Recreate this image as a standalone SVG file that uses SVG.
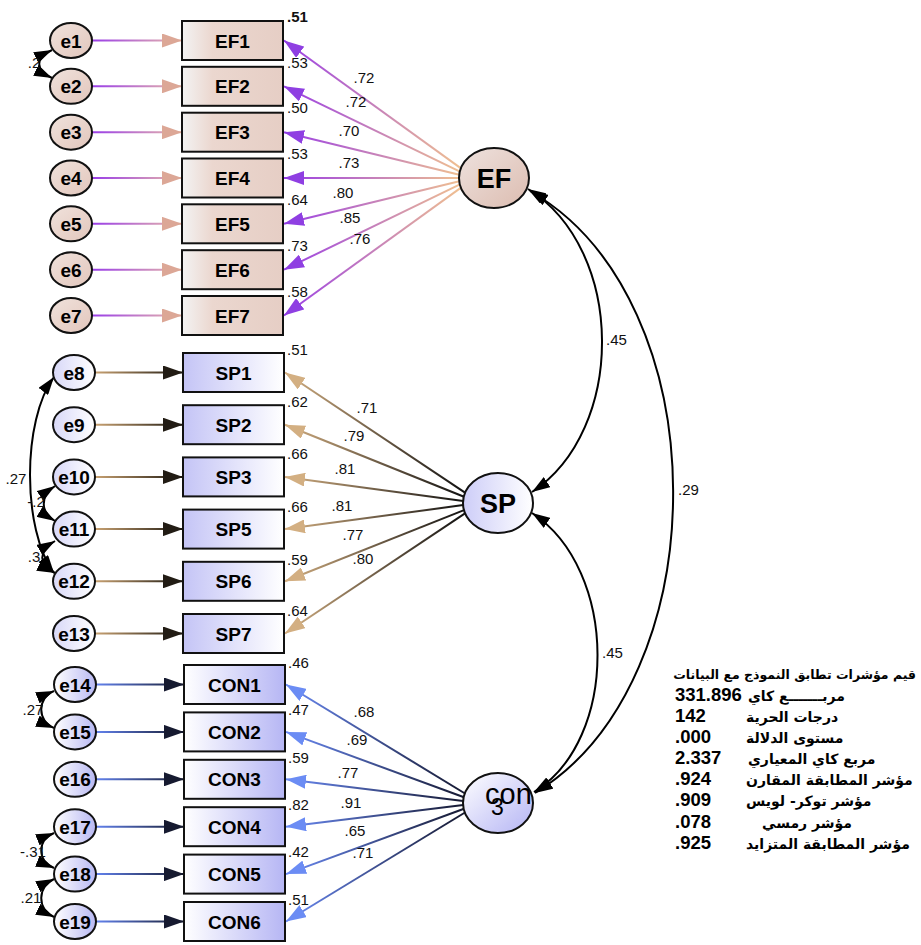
<svg xmlns="http://www.w3.org/2000/svg" width="921" height="945" viewBox="0 0 921 945">
<style>
.box{stroke:#111;stroke-width:2}
.err{stroke:#111;stroke-width:2}
.lat{stroke:#111;stroke-width:2}
.lbl{font-family:"Liberation Sans Narrow","Liberation Sans",Arial,sans-serif;font-weight:bold;font-size:19px;text-anchor:middle;fill:#000}
.big{font-family:"Liberation Sans Narrow","Liberation Sans",Arial,sans-serif;font-weight:bold;font-size:27px;text-anchor:middle;fill:#000}
.num{font-family:"Liberation Sans Narrow","Liberation Sans",Arial,sans-serif;font-size:15px;fill:#111}
.numc{font-family:"Liberation Sans Narrow","Liberation Sans",Arial,sans-serif;font-size:15px;fill:#111;text-anchor:middle}
.ln{fill:none;stroke-width:2}
.cov{fill:none;stroke:#000;stroke-width:2}
.ar{font-family:"DejaVu Sans","Noto Sans",sans-serif;font-weight:bold;font-size:14px;fill:#000;text-anchor:start}
.ttl{font-family:"DejaVu Sans","Noto Sans",sans-serif;font-weight:bold;font-size:12.5px;fill:#000;text-anchor:end}
.val{font-family:"Liberation Sans",Arial,sans-serif;font-weight:bold;font-size:18.5px;fill:#000}
</style>
<defs>
<linearGradient id="gEFbox" x1="0" y1="0" x2="1" y2="0"><stop offset="0" stop-color="#f3f3f3"/><stop offset="0.3" stop-color="#ebd7cf"/><stop offset="1" stop-color="#e6cec5"/></linearGradient>
<linearGradient id="gEFe" x1="0" y1="0" x2="1" y2="1"><stop offset="0" stop-color="#f0e2dc"/><stop offset="1" stop-color="#e2c6bc"/></linearGradient>
<linearGradient id="gEFell" x1="0" y1="0" x2="1" y2="1"><stop offset="0" stop-color="#eee2de"/><stop offset="1" stop-color="#dcbcb0"/></linearGradient>
<linearGradient id="gSPbox" x1="0" y1="0" x2="1" y2="0"><stop offset="0" stop-color="#c4c4f6"/><stop offset="1" stop-color="#ffffff"/></linearGradient>
<linearGradient id="gSPe" x1="0" y1="0" x2="1" y2="0"><stop offset="0" stop-color="#d8d8f8"/><stop offset="1" stop-color="#ffffff"/></linearGradient>
<linearGradient id="gSPell" x1="0" y1="0" x2="1" y2="0"><stop offset="0" stop-color="#cdcdf8"/><stop offset="1" stop-color="#ffffff"/></linearGradient>
<linearGradient id="gCONbox" x1="0" y1="0" x2="1" y2="0"><stop offset="0" stop-color="#ffffff"/><stop offset="1" stop-color="#b6b6f4"/></linearGradient>
<linearGradient id="gCONe" x1="0" y1="0" x2="1" y2="0"><stop offset="0" stop-color="#ffffff"/><stop offset="1" stop-color="#b8b8f2"/></linearGradient>
<linearGradient id="gCONell" x1="0" y1="0" x2="1" y2="1"><stop offset="0" stop-color="#ffffff"/><stop offset="1" stop-color="#b4b4f4"/></linearGradient>
<linearGradient id="lEFe" gradientUnits="userSpaceOnUse" x1="92" y1="0" x2="182" y2="0"><stop offset="0" stop-color="#9a3ee8"/><stop offset="1" stop-color="#e8b8a8"/></linearGradient>
<linearGradient id="lSPe" gradientUnits="userSpaceOnUse" x1="95" y1="0" x2="183" y2="0"><stop offset="0" stop-color="#c9a272"/><stop offset="1" stop-color="#1c1810"/></linearGradient>
<linearGradient id="lCONe" gradientUnits="userSpaceOnUse" x1="96" y1="0" x2="184" y2="0"><stop offset="0" stop-color="#6282ee"/><stop offset="1" stop-color="#161a2e"/></linearGradient>
<linearGradient id="lEFl" gradientUnits="userSpaceOnUse" x1="461" y1="0" x2="284" y2="0"><stop offset="0" stop-color="#f0c090"/><stop offset="1" stop-color="#9a3ee6"/></linearGradient>
<linearGradient id="lSPl" gradientUnits="userSpaceOnUse" x1="464" y1="0" x2="285" y2="0"><stop offset="0" stop-color="#111111"/><stop offset="1" stop-color="#d2ae80"/></linearGradient>
<linearGradient id="lCONl" gradientUnits="userSpaceOnUse" x1="464" y1="0" x2="286" y2="0"><stop offset="0" stop-color="#151830"/><stop offset="1" stop-color="#6a8af5"/></linearGradient>
<marker id="mPeach" markerUnits="userSpaceOnUse" viewBox="0 0 20 14" markerWidth="20" markerHeight="14" refX="20" refY="7" orient="auto"><path d="M0,0 L20,7 L0,14 z" fill="#dca796"/></marker>
<marker id="mPurple" markerUnits="userSpaceOnUse" viewBox="0 0 20 14" markerWidth="20" markerHeight="14" refX="20" refY="7" orient="auto"><path d="M0,0 L20,7 L0,14 z" fill="#8f3fe2"/></marker>
<marker id="mDark" markerUnits="userSpaceOnUse" viewBox="0 0 20 14" markerWidth="20" markerHeight="14" refX="20" refY="7" orient="auto"><path d="M0,0 L20,7 L0,14 z" fill="#221c14"/></marker>
<marker id="mTan" markerUnits="userSpaceOnUse" viewBox="0 0 20 14" markerWidth="20" markerHeight="14" refX="20" refY="7" orient="auto"><path d="M0,0 L20,7 L0,14 z" fill="#d3af82"/></marker>
<marker id="mNavy" markerUnits="userSpaceOnUse" viewBox="0 0 20 14" markerWidth="20" markerHeight="14" refX="20" refY="7" orient="auto"><path d="M0,0 L20,7 L0,14 z" fill="#161a30"/></marker>
<marker id="mBlue" markerUnits="userSpaceOnUse" viewBox="0 0 20 14" markerWidth="20" markerHeight="14" refX="20" refY="7" orient="auto"><path d="M0,0 L20,7 L0,14 z" fill="#6b8cf4"/></marker>
<marker id="mBlack" markerUnits="userSpaceOnUse" viewBox="0 0 18 12" markerWidth="18" markerHeight="12" refX="18" refY="6" orient="auto-start-reverse"><path d="M0,0 L18,6 L0,12 z" fill="#000"/></marker>
</defs>
<rect width="921" height="945" fill="#fff"/>

<g id="connectors">
  <g stroke="url(#lEFe)" class="ln" marker-end="url(#mPeach)">
    <path d="M92,40.5 H182"/><path d="M92,86.3 H182"/><path d="M92,132.2 H182"/><path d="M92,178 H182"/><path d="M92,223.8 H182"/><path d="M92,269.7 H182"/><path d="M92,315.5 H182"/>
  </g>
  <g stroke="url(#lEFl)" class="ln" marker-end="url(#mPurple)">
    <path d="M461,168.4 L284,40.5"/><path d="M460,171.6 L284,86.3"/><path d="M459.3,174.8 L284,132.2"/><path d="M459,178 L284,178"/><path d="M459.3,181.2 L284,223.8"/><path d="M460,184.4 L284,269.7"/><path d="M461,187.6 L284,315.5"/>
  </g>
  <g stroke="url(#lSPe)" class="ln" marker-end="url(#mDark)">
    <path d="M95,372.5 H183"/><path d="M95,424.7 H183"/><path d="M95,476.9 H183"/><path d="M95,529.1 H183"/><path d="M95,581.3 H183"/><path d="M95,633.5 H183"/>
  </g>
  <g stroke="url(#lSPl)" class="ln" marker-end="url(#mTan)">
    <path d="M465,492.6 L285,372.5"/><path d="M464,496.7 L285,424.7"/><path d="M463.2,500.9 L285,476.9"/><path d="M463.2,505.1 L285,529.1"/><path d="M464,510.1 L285,581.3"/><path d="M465,513.4 L285,633.5"/>
  </g>
  <g stroke="url(#lCONe)" class="ln" marker-end="url(#mNavy)">
    <path d="M96,684.5 H184"/><path d="M96,731.9 H184"/><path d="M96,779.3 H184"/><path d="M96,826.7 H184"/><path d="M96,874.1 H184"/><path d="M96,921.5 H184"/>
  </g>
  <g stroke="url(#lCONl)" class="ln" marker-end="url(#mBlue)">
    <path d="M465,793.5 L286,684.5"/><path d="M464,797.3 L286,731.9"/><path d="M463.2,801.1 L286,779.3"/><path d="M463.2,804.9 L286,826.7"/><path d="M464,808.7 L286,874.1"/><path d="M465,812.5 L286,921.5"/>
  </g>
  <g class="cov" marker-start="url(#mBlack)" marker-end="url(#mBlack)">
    <path d="M528,189 C626,250 626,430 532,492"/>
    <path d="M530,191 C720,300 720,680 535,793"/>
    <path d="M532,513 C619,570 619,740 534,792"/>
  </g>
  <g class="cov" marker-start="url(#mBlack)" marker-end="url(#mBlack)">
    <path d="M52,50 C35,58 35,70 52,78"/>
    <path d="M54,377 C22,420 22,530 54,573"/>
    <path d="M55,486 C40,496 40,512 55,521"/>
    <path d="M55,541 C38,551 38,565 55,573"/>
    <path d="M54,691 C37,698 37,721 54,728"/>
    <path d="M54,833 C37,840 37,861 54,868"/>
    <path d="M54,879 C37,887 37,909 54,917"/>
  </g>
  <text class="numc" x="364" y="83">.72</text>
  <text class="numc" x="356" y="107">.72</text>
  <text class="numc" x="349" y="136">.70</text>
  <text class="numc" x="349" y="168">.73</text>
  <text class="numc" x="343" y="198">.80</text>
  <text class="numc" x="350" y="223">.85</text>
  <text class="numc" x="360" y="244">.76</text>
  <text class="numc" x="367" y="413">.71</text>
  <text class="numc" x="354" y="441">.79</text>
  <text class="numc" x="345" y="474">.81</text>
  <text class="numc" x="342" y="511">.81</text>
  <text class="numc" x="353" y="540">.77</text>
  <text class="numc" x="363" y="564">.80</text>
  <text class="numc" x="364" y="717">.68</text>
  <text class="numc" x="357" y="745">.69</text>
  <text class="numc" x="348" y="778">.77</text>
  <text class="numc" x="351" y="808">.91</text>
  <text class="numc" x="355" y="836">.65</text>
  <text class="numc" x="363" y="858">.71</text>
  <text class="num" x="287" y="22" font-weight="bold">.51</text>
  <text class="num" x="287" y="68">.53</text>
  <text class="num" x="287" y="113">.50</text>
  <text class="num" x="287" y="159">.53</text>
  <text class="num" x="287" y="205">.64</text>
  <text class="num" x="287" y="251">.73</text>
  <text class="num" x="287" y="297">.58</text>
  <text class="num" x="287" y="355">.51</text>
  <text class="num" x="287" y="407">.62</text>
  <text class="num" x="287" y="459">.66</text>
  <text class="num" x="287" y="512">.66</text>
  <text class="num" x="287" y="565">.59</text>
  <text class="num" x="287" y="616">.64</text>
  <text class="num" x="288" y="668">.46</text>
  <text class="num" x="288" y="715">.47</text>
  <text class="num" x="288" y="763">.59</text>
  <text class="num" x="288" y="810">.82</text>
  <text class="num" x="288" y="857">.42</text>
  <text class="num" x="288" y="905">.51</text>
  <text class="num" x="606" y="345">.45</text>
  <text class="num" x="678" y="495">.29</text>
  <text class="num" x="602" y="658">.45</text>
  <text class="numc" x="34" y="68">.2</text>
  <text class="numc" x="16" y="484">.27</text>
  <text class="numc" x="36" y="507">-.2</text>
  <text class="numc" x="34" y="562">.3</text>
  <text class="numc" x="33" y="715">.27</text>
  <text class="numc" x="33" y="857">-.31</text>
  <text class="numc" x="31" y="903">.21</text>
</g>

<g id="e1"><ellipse class="err" cx="71" cy="40.5" rx="21" ry="17.5" fill="url(#gEFe)"/><text class="lbl" x="71" y="47.5">e1</text></g>
<g id="e2"><ellipse class="err" cx="71" cy="86.3" rx="21" ry="17.5" fill="url(#gEFe)"/><text class="lbl" x="71" y="93.3">e2</text></g>
<g id="e3"><ellipse class="err" cx="71" cy="132.2" rx="21" ry="17.5" fill="url(#gEFe)"/><text class="lbl" x="71" y="139.2">e3</text></g>
<g id="e4"><ellipse class="err" cx="71" cy="178" rx="21" ry="17.5" fill="url(#gEFe)"/><text class="lbl" x="71" y="185">e4</text></g>
<g id="e5"><ellipse class="err" cx="71" cy="223.8" rx="21" ry="17.5" fill="url(#gEFe)"/><text class="lbl" x="71" y="230.8">e5</text></g>
<g id="e6"><ellipse class="err" cx="71" cy="269.7" rx="21" ry="17.5" fill="url(#gEFe)"/><text class="lbl" x="71" y="276.7">e6</text></g>
<g id="e7"><ellipse class="err" cx="71" cy="315.5" rx="21" ry="17.5" fill="url(#gEFe)"/><text class="lbl" x="71" y="322.5">e7</text></g>

<g id="EF1"><rect class="box" x="182" y="21" width="101" height="39" fill="url(#gEFbox)"/><text class="lbl" x="232.5" y="47.5">EF1</text></g>
<g id="EF2"><rect class="box" x="182" y="66.8" width="101" height="39" fill="url(#gEFbox)"/><text class="lbl" x="232.5" y="93.3">EF2</text></g>
<g id="EF3"><rect class="box" x="182" y="112.7" width="101" height="39" fill="url(#gEFbox)"/><text class="lbl" x="232.5" y="139.2">EF3</text></g>
<g id="EF4"><rect class="box" x="182" y="158.5" width="101" height="39" fill="url(#gEFbox)"/><text class="lbl" x="232.5" y="185">EF4</text></g>
<g id="EF5"><rect class="box" x="182" y="204.3" width="101" height="39" fill="url(#gEFbox)"/><text class="lbl" x="232.5" y="230.8">EF5</text></g>
<g id="EF6"><rect class="box" x="182" y="250.2" width="101" height="39" fill="url(#gEFbox)"/><text class="lbl" x="232.5" y="276.7">EF6</text></g>
<g id="EF7"><rect class="box" x="182" y="296" width="101" height="39" fill="url(#gEFbox)"/><text class="lbl" x="232.5" y="322.5">EF7</text></g>

<g id="EF"><ellipse class="lat" cx="494" cy="178" rx="35" ry="30" fill="url(#gEFell)"/><text class="big" x="494" y="188">EF</text></g>

<g id="e8"><ellipse class="err" cx="74" cy="372.5" rx="21" ry="17.5" fill="url(#gSPe)"/><text class="lbl" x="74" y="379.5">e8</text></g>
<g id="e9"><ellipse class="err" cx="74" cy="424.7" rx="21" ry="17.5" fill="url(#gSPe)"/><text class="lbl" x="74" y="431.7">e9</text></g>
<g id="e10"><ellipse class="err" cx="74" cy="476.9" rx="21" ry="17.5" fill="url(#gSPe)"/><text class="lbl" x="74" y="483.9">e10</text></g>
<g id="e11"><ellipse class="err" cx="74" cy="529.1" rx="21" ry="17.5" fill="url(#gSPe)"/><text class="lbl" x="74" y="536.1">e11</text></g>
<g id="e12"><ellipse class="err" cx="74" cy="581.3" rx="21" ry="17.5" fill="url(#gSPe)"/><text class="lbl" x="74" y="588.3">e12</text></g>
<g id="e13"><ellipse class="err" cx="74" cy="633.5" rx="21" ry="17.5" fill="url(#gSPe)"/><text class="lbl" x="74" y="640.5">e13</text></g>

<g id="SP1"><rect class="box" x="183" y="353" width="101" height="39" fill="url(#gSPbox)"/><text class="lbl" x="233.5" y="379.5">SP1</text></g>
<g id="SP2"><rect class="box" x="183" y="405.2" width="101" height="39" fill="url(#gSPbox)"/><text class="lbl" x="233.5" y="431.7">SP2</text></g>
<g id="SP3"><rect class="box" x="183" y="457.4" width="101" height="39" fill="url(#gSPbox)"/><text class="lbl" x="233.5" y="483.9">SP3</text></g>
<g id="SP5"><rect class="box" x="183" y="509.6" width="101" height="39" fill="url(#gSPbox)"/><text class="lbl" x="233.5" y="536.1">SP5</text></g>
<g id="SP6"><rect class="box" x="183" y="561.8" width="101" height="39" fill="url(#gSPbox)"/><text class="lbl" x="233.5" y="588.3">SP6</text></g>
<g id="SP7"><rect class="box" x="183" y="614" width="101" height="39" fill="url(#gSPbox)"/><text class="lbl" x="233.5" y="640.5">SP7</text></g>

<g id="SP"><ellipse class="lat" cx="498" cy="503" rx="35" ry="30" fill="url(#gSPell)"/><text class="big" x="498" y="513">SP</text></g>

<g id="e14"><ellipse class="err" cx="75" cy="684.5" rx="21" ry="17.5" fill="url(#gCONe)"/><text class="lbl" x="75" y="691.5">e14</text></g>
<g id="e15"><ellipse class="err" cx="75" cy="731.9" rx="21" ry="17.5" fill="url(#gCONe)"/><text class="lbl" x="75" y="738.9">e15</text></g>
<g id="e16"><ellipse class="err" cx="75" cy="779.3" rx="21" ry="17.5" fill="url(#gCONe)"/><text class="lbl" x="75" y="786.3">e16</text></g>
<g id="e17"><ellipse class="err" cx="75" cy="826.7" rx="21" ry="17.5" fill="url(#gCONe)"/><text class="lbl" x="75" y="833.7">e17</text></g>
<g id="e18"><ellipse class="err" cx="75" cy="874.1" rx="21" ry="17.5" fill="url(#gCONe)"/><text class="lbl" x="75" y="881.1">e18</text></g>
<g id="e19"><ellipse class="err" cx="75" cy="921.5" rx="21" ry="17.5" fill="url(#gCONe)"/><text class="lbl" x="75" y="928.5">e19</text></g>

<g id="CON1"><rect class="box" x="184" y="665" width="101" height="39" fill="url(#gCONbox)"/><text class="lbl" x="234.5" y="691.5">CON1</text></g>
<g id="CON2"><rect class="box" x="184" y="712.4" width="101" height="39" fill="url(#gCONbox)"/><text class="lbl" x="234.5" y="738.9">CON2</text></g>
<g id="CON3"><rect class="box" x="184" y="759.8" width="101" height="39" fill="url(#gCONbox)"/><text class="lbl" x="234.5" y="786.3">CON3</text></g>
<g id="CON4"><rect class="box" x="184" y="807.2" width="101" height="39" fill="url(#gCONbox)"/><text class="lbl" x="234.5" y="833.7">CON4</text></g>
<g id="CON5"><rect class="box" x="184" y="854.6" width="101" height="39" fill="url(#gCONbox)"/><text class="lbl" x="234.5" y="881.1">CON5</text></g>
<g id="CON6"><rect class="box" x="184" y="902" width="101" height="39" fill="url(#gCONbox)"/><text class="lbl" x="234.5" y="928.5">CON6</text></g>

<g id="con"><ellipse class="lat" cx="498" cy="803" rx="35" ry="30" fill="url(#gCONell)"/><text x="485" y="804" font-family="'Liberation Sans',Arial,sans-serif" font-size="29" fill="#000">con</text><text x="491" y="815" font-family="'Liberation Sans',Arial,sans-serif" font-size="23" fill="#000">3</text></g>

<g id="fit-indices">
  <text class="ttl" x="916" y="679">قيم مؤشرات تطابق النموذج مع البيانات</text>
  <text class="val" x="675" y="701">331.896</text><text class="ar" x="748" y="701">مربـــــــع كاي</text>
  <text class="val" x="675" y="722">142</text><text class="ar" x="746" y="722">درجات الحرية</text>
  <text class="val" x="675" y="743">.000</text><text class="ar" x="746" y="743">مستوى الدلالة</text>
  <text class="val" x="675" y="764">2.337</text><text class="ar" x="748" y="764">مربع كاي المعياري</text>
  <text class="val" x="675" y="785">.924</text><text class="ar" x="746" y="785">مؤشر المطابقة المقارن</text>
  <text class="val" x="675" y="806">.909</text><text class="ar" x="746" y="806">مؤشر توكر- لويس</text>
  <text class="val" x="675" y="828">.078</text><text class="ar" x="762" y="828">مؤشر رمسي</text>
  <text class="val" x="675" y="849">.925</text><text class="ar" x="746" y="849">مؤشر المطابقة المتزايد</text>
</g>
</svg>
